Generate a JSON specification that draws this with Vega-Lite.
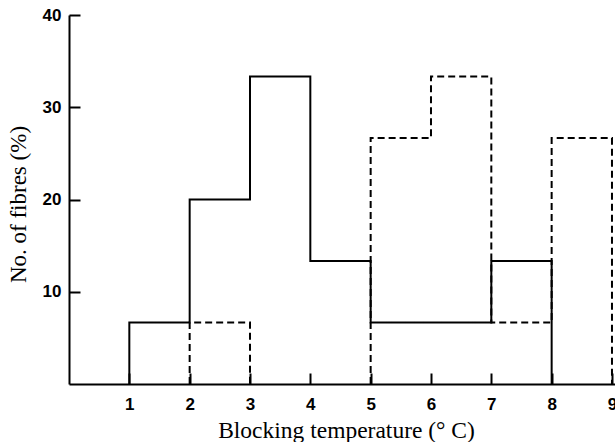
{
  "$schema": "https://vega.github.io/schema/vega-lite/v6.json",
  "width": 546,
  "height": 369,
  "autosize": {"type": "none"},
  "padding": {"left": 69, "top": 15, "right": 0, "bottom": 58},
  "background": "white",
  "config": {
    "view": {"stroke": null, "fill": null},
    "axis": {
      "grid": false,
      "zindex": 1,
      "domainColor": "black",
      "domainWidth": 2,
      "tickColor": "black",
      "tickWidth": 2,
      "labelColor": "black",
      "titleColor": "black",
      "labelFont": "Liberation Sans",
      "labelFontWeight": "bold",
      "labelFontSize": 17,
      "titleFont": "Liberation Serif",
      "titleFontWeight": "normal"
    }
  },
  "data": {
    "values": [
      {"series": "solid", "seg": "s1", "i": 0, "t": 1, "pct": 0},
      {"series": "solid", "seg": "s1", "i": 1, "t": 1, "pct": 6.667},
      {"series": "solid", "seg": "s1", "i": 2, "t": 2, "pct": 20},
      {"series": "solid", "seg": "s1", "i": 3, "t": 3, "pct": 33.33},
      {"series": "solid", "seg": "s1", "i": 4, "t": 4, "pct": 13.33},
      {"series": "solid", "seg": "s1", "i": 5, "t": 5, "pct": 6.667},
      {"series": "solid", "seg": "s1", "i": 6, "t": 6, "pct": 6.667},
      {"series": "solid", "seg": "s1", "i": 7, "t": 7, "pct": 13.33},
      {"series": "solid", "seg": "s1", "i": 8, "t": 8, "pct": 0},
      {"series": "dashed", "seg": "d1", "i": 0, "t": 2, "pct": 0},
      {"series": "dashed", "seg": "d1", "i": 1, "t": 2, "pct": 6.667},
      {"series": "dashed", "seg": "d1", "i": 2, "t": 3, "pct": 0},
      {"series": "dashed", "seg": "d2", "i": 3, "t": 5, "pct": 0},
      {"series": "dashed", "seg": "d2", "i": 4, "t": 5, "pct": 26.67},
      {"series": "dashed", "seg": "d2", "i": 5, "t": 6, "pct": 33.33},
      {"series": "dashed", "seg": "d2", "i": 6, "t": 7, "pct": 6.667},
      {"series": "dashed", "seg": "d2", "i": 7, "t": 8, "pct": 26.67},
      {"series": "dashed", "seg": "d2", "i": 8, "t": 9, "pct": 0}
    ]
  },
  "mark": {"type": "line", "interpolate": "step-after", "strokeWidth": 2, "color": "black", "clip": false},
  "encoding": {
    "x": {
      "field": "t",
      "type": "quantitative",
      "scale": {"domain": [0, 9.05], "nice": false, "zero": false},
      "axis": {
        "values": [1, 2, 3, 4, 5, 6, 7, 8, 9],
        "tickSize": -11,
        "labelPadding": 23,
        "labelBaseline": "top",
        "title": "Blocking temperature (° C)",
        "titleFontSize": 23.5,
        "titleAnchor": "start",
        "titleAlign": "center",
        "titleBaseline": "alphabetic",
        "titleX": 277,
        "titleY": 53
      }
    },
    "y": {
      "field": "pct",
      "type": "quantitative",
      "scale": {"domain": [0, 40], "nice": false},
      "axis": {
        "values": [10, 20, 30, 40],
        "tickSize": -11,
        "labelPadding": 19,
        "title": "No. of fibres (%)",
        "titleFontSize": 23,
        "titleAngle": -90,
        "titleAlign": "center",
        "titleBaseline": "middle",
        "titleAnchor": "start",
        "titleX": -51,
        "titleY": 189
      }
    },
    "order": {"field": "i"},
    "detail": {"field": "seg"},
    "strokeDash": {
      "field": "series",
      "type": "nominal",
      "scale": {"domain": ["solid", "dashed"], "range": [[1, 0], [7, 4]]},
      "legend": null
    }
  }
}
